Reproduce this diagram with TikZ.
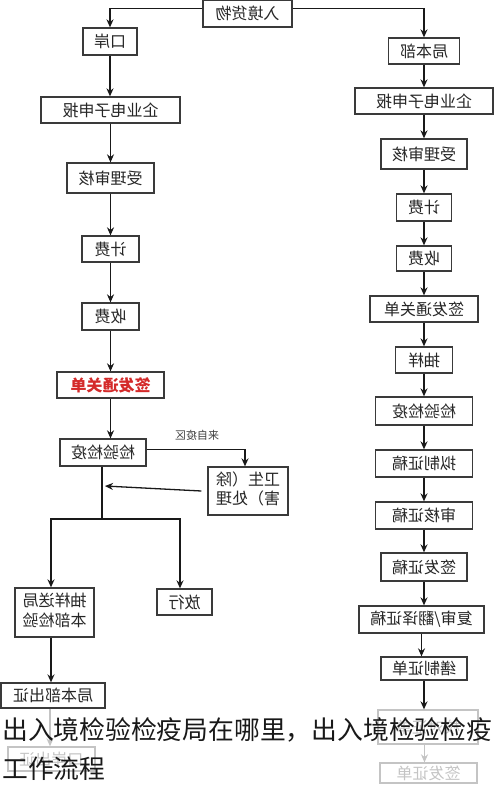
\documentclass[tikz,border=0pt]{standalone}
\usepackage{fontspec}
\usepackage{graphicx}
\usepackage{xcolor}
\usetikzlibrary{arrows.meta,calc}
\newfontfamily\cjk{Noto Sans CJK SC}
\newcommand{\mirtxt}[1]{\reflectbox{#1}}
\definecolor{boxline}{HTML}{3A3A3A}
\definecolor{fade}{HTML}{C4C4C4}
\definecolor{redtxt}{HTML}{D42A2A}
\tikzset{
  flowbox/.style={draw=boxline,line width=1.3pt,text=black!85,inner sep=0pt,
    font=\cjk\fontsize{16}{18}\selectfont},
  fadebox/.style={flowbox,draw=fade,text=fade},
  arr/.style={-{Stealth[length=8pt,width=7pt]},line width=1.3pt,draw=black!90},
  fadearr/.style={arr,draw=fade},
  plain/.style={line width=1.3pt,draw=black!90},
}
\begin{document}
\begin{tikzpicture}[x=1pt,y=-1pt]
      \useasboundingbox (0,0) rectangle (494,790);
      % 入境货物
      \node[flowbox,minimum width=89pt,minimum height=27pt] (top) at (247.5,13.5) {\mirtxt{入境货物}};
      % 左列 (口岸)
      \node[flowbox,minimum width=54pt,minimum height=27pt] (kouan) at (110,41.5) {\mirtxt{口岸}};
      \node[flowbox,minimum width=139pt,minimum height=26pt] (Lqiye) at (110.5,110) {\mirtxt{企业电子申报}};
      \node[flowbox,minimum width=87pt,minimum height=30pt] (Lshouli) at (110.5,178) {\mirtxt{受理审核}};
      \node[flowbox,minimum width=57pt,minimum height=26pt] (Ljifei) at (110.5,249) {\mirtxt{计费}};
      \node[flowbox,minimum width=57pt,minimum height=27pt] (Lshoufei) at (110.5,316.5) {\mirtxt{收费}};
      \node[flowbox,minimum width=107pt,minimum height=26pt,text=redtxt,font=\cjk\bfseries\fontsize{16}{18}\selectfont] (Ltongguan) at (110.5,385) {\mirtxt{签发通关单}};
      \node[flowbox,minimum width=86pt,minimum height=27pt] (Ljianyan) at (103,452.5) {\mirtxt{检验检疫}};
      \node[text=black!75,font=\cjk\fontsize{11}{13}\selectfont,inner sep=0pt] (yiqu) at (197,435) {\mirtxt{来自疫区}};
      \node[flowbox,minimum width=80pt,minimum height=48pt,font=\cjk\fontsize{16}{19.5}\selectfont] (weisheng) at (248,491)
        {\mirtxt{\begin{tabular}{@{}l@{}}卫生（除\\害）处理\end{tabular}}};
      \node[flowbox,minimum width=79pt,minimum height=49pt,font=\cjk\fontsize{16}{19.5}\selectfont] (csong) at (54.5,612.5)
        {\mirtxt{\begin{tabular}{@{}l@{}}抽样送局\\本部检验\end{tabular}}};
      \node[flowbox,minimum width=55pt,minimum height=26pt] (fangxing) at (184.5,602) {\mirtxt{放行}};
      \node[flowbox,minimum width=104pt,minimum height=25pt] (jcz) at (53,695.5) {\mirtxt{局本部出证}};
      \node[fadebox,minimum width=87pt,minimum height=24pt] (kcz) at (51.5,759) {\mirtxt{口岸出证}};
      % 右列 (局本部)
      \node[flowbox,minimum width=71pt,minimum height=26pt] (Rjuben) at (424,51) {\mirtxt{局本部}};
      \node[flowbox,minimum width=138pt,minimum height=26pt] (Rqiye) at (424,101) {\mirtxt{企业电子申报}};
      \node[flowbox,minimum width=86pt,minimum height=30pt] (Rshouli) at (424,154) {\mirtxt{受理审核}};
      \node[flowbox,minimum width=55pt,minimum height=27pt] (Rjifei) at (424,207.5) {\mirtxt{计费}};
      \node[flowbox,minimum width=55pt,minimum height=25pt] (Rshoufei) at (424,258.5) {\mirtxt{收费}};
      \node[flowbox,minimum width=108pt,minimum height=26pt] (Rtongguan) at (424,309) {\mirtxt{签发通关单}};
      \node[flowbox,minimum width=57pt,minimum height=26pt] (Rchouyang) at (424,360) {\mirtxt{抽样}};
      \node[flowbox,minimum width=97pt,minimum height=28pt] (Rjianyan) at (424,411) {\mirtxt{检验检疫}};
      \node[flowbox,minimum width=97pt,minimum height=27pt] (Rnizhi) at (424,463.5) {\mirtxt{拟制证稿}};
      \node[flowbox,minimum width=97pt,minimum height=27pt] (Rshenhe) at (424,515.5) {\mirtxt{审核证稿}};
      \node[flowbox,minimum width=86pt,minimum height=28pt] (Rqianfa) at (424,567) {\mirtxt{签发证稿}};
      \node[flowbox,minimum width=125pt,minimum height=27pt] (Rfushen) at (421.5,619.5) {\mirtxt{复审/翻译证稿}};
      \node[flowbox,minimum width=86pt,minimum height=23pt] (Rshanzhi) at (424,668.5) {\mirtxt{缮制证单}};
      \node[fadebox,minimum width=100pt,minimum height=34pt] (Rjiaodui) at (428,727) {\mirtxt{校对证单}};
      \node[fadebox,minimum width=97pt,minimum height=20pt] (Rqianzheng) at (428.5,773) {\mirtxt{签发证单}};
      % 连线
      \draw[arr] ([yshift=5pt]top.west) -| (kouan.north);
      \draw[arr] ([yshift=5pt]top.east) -| (Rjuben.north);
      \foreach \a/\b in {kouan/Lqiye,Lqiye/Lshouli,Lshouli/Ljifei,Ljifei/Lshoufei,Lshoufei/Ltongguan,Ltongguan/Ljianyan}
        \draw[arr] (\a.south) -- (\a.south |- \b.north);
      \foreach \a/\b in {Rjuben/Rqiye,Rqiye/Rshouli,Rshouli/Rjifei,Rjifei/Rshoufei,Rshoufei/Rtongguan,Rtongguan/Rchouyang,
          Rchouyang/Rjianyan,Rjianyan/Rnizhi,Rnizhi/Rshenhe,Rshenhe/Rqianfa,Rqianfa/Rfushen,Rfushen/Rshanzhi,Rshanzhi/Rjiaodui}
        \draw[arr] (\a.south) -- (\a.south |- \b.north);
      \draw[fadearr] ([xshift=-3.5pt]Rjiaodui.south) -- ([xshift=-3.5pt]Rjiaodui.south |- Rqianzheng.north);
      % 检验检疫 -> 卫生处理
      \draw[arr] ([yshift=3pt]Ljianyan.east) -| ([xshift=-3pt]weisheng.north);
      \coordinate (back) at (105,486);
      \coordinate (split) at (102,519);
      \draw[arr] ([xshift=-6pt]weisheng.west) -- (back);
      \draw[plain] (Ljianyan.south -| split) -- (split);
      \draw[arr] (split) -| ([xshift=-3.5pt]csong.north);
      \draw[arr] (split) -| ([xshift=-4.5pt]fangxing.north);
      \draw[arr] ([xshift=-3.5pt]csong.south) -- ([xshift=-3.5pt]csong.south |- jcz.north);
      \draw[fadearr] ([xshift=-3pt]jcz.south) -- ([xshift=-3pt]jcz.south |- kcz.north);
      % 标题文字
      \node[anchor=base west,inner sep=0pt,text=black!90,font=\cjk\fontsize{25.8}{30}\selectfont] (cap1) at (2,739) {出入境检验检疫局在哪里，出入境检验检疫};
      \node[anchor=base west,inner sep=0pt,text=black!90,font=\cjk\fontsize{25.8}{30}\selectfont] (cap2) at (2,778) {工作流程};
\end{tikzpicture}
\end{document}
